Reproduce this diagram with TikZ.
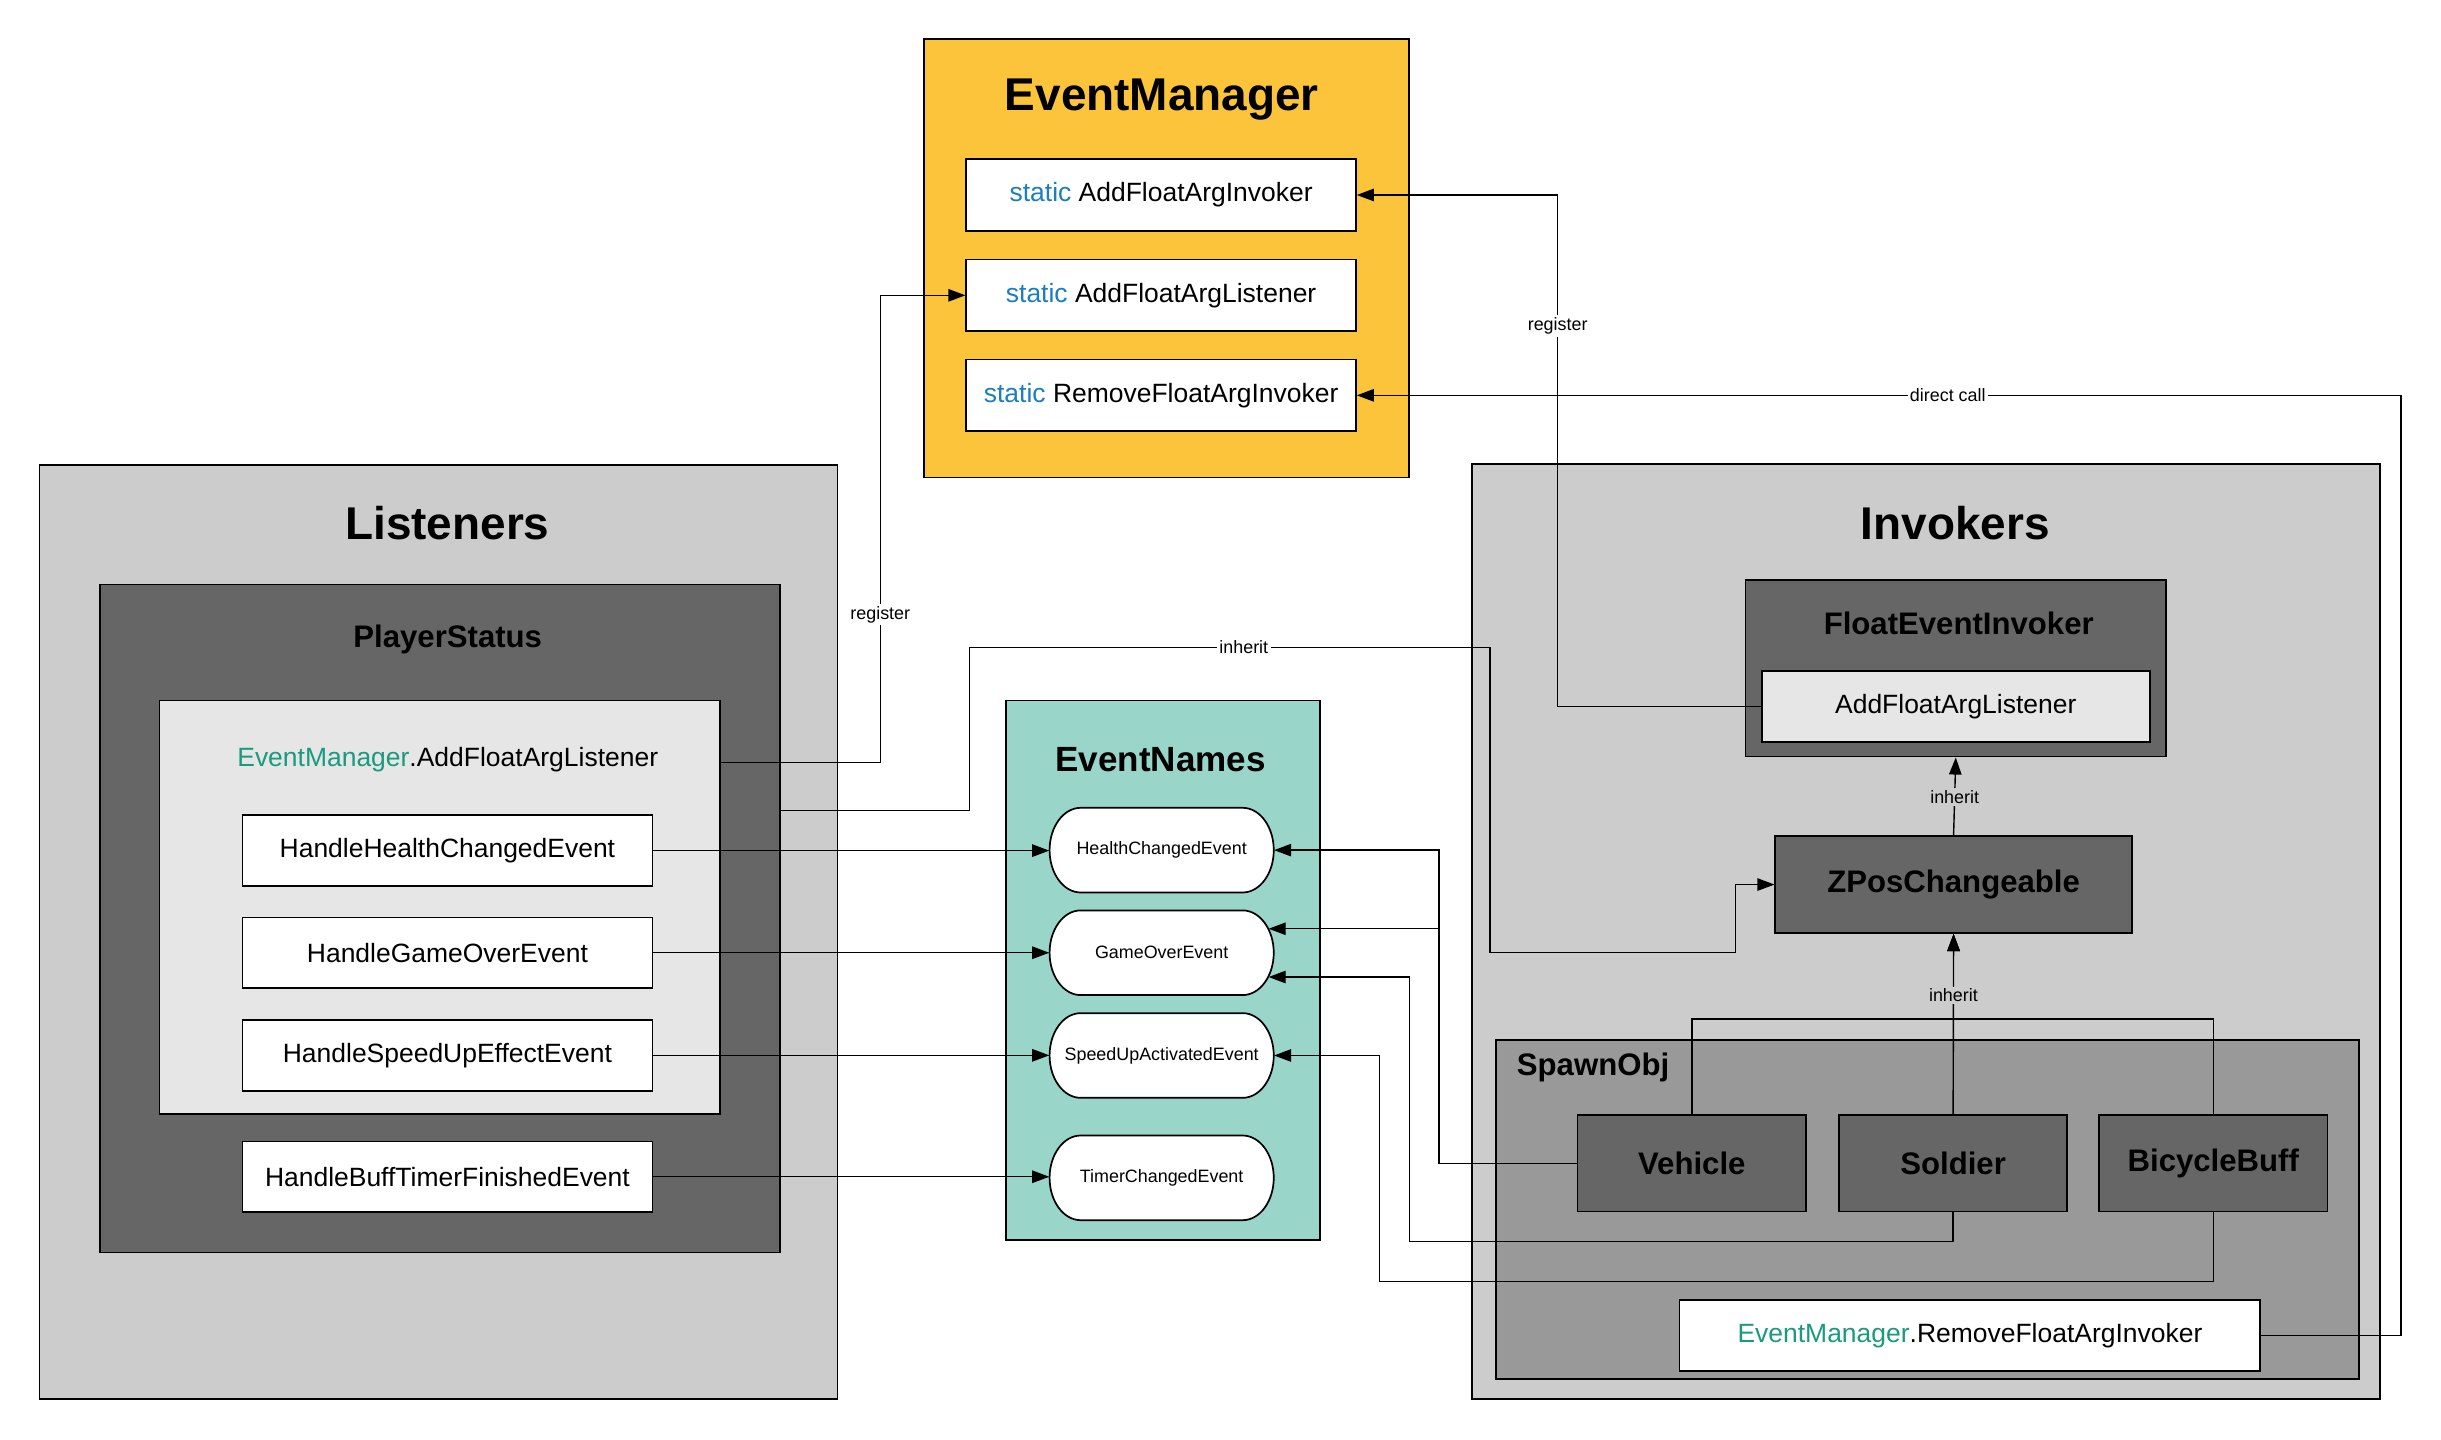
\documentclass[tikz,border=0pt]{standalone}
\usepackage{fontspec}
\setmainfont{Liberation Sans}
\usetikzlibrary{arrows,arrows.meta}

\definecolor{emyellow}{HTML}{FBC43B}
\definecolor{cellgray}{HTML}{CCCCCC}
\definecolor{psgray}{HTML}{666666}
\definecolor{callgray}{HTML}{E6E6E6}
\definecolor{spawngray}{HTML}{999999}
\definecolor{namesteal}{HTML}{9AD5CA}
\definecolor{mgrgreen}{HTML}{1A9A7E}
\definecolor{staticblue}{HTML}{1B7EC2}

\newcommand{\ftitle}{\fontsize{29.5}{34}\selectfont\bfseries}
\newcommand{\fnames}{\fontsize{22.5}{26}\selectfont\bfseries}
\newcommand{\fclass}{\fontsize{20}{24}\selectfont\bfseries}
\newcommand{\fbody}{\fontsize{17}{20}\selectfont}
\newcommand{\flabel}{\fontsize{11.5}{14}\selectfont}
\newcommand{\mgr}{\textcolor{mgrgreen}{EventManager}}
\newcommand{\stat}{\textcolor{staticblue}{static}}

\begin{document}
\begin{tikzpicture}[x=1pt,y=-1pt,
	box/.style={draw, line width=1.1pt, inner sep=0pt},
	method/.style={box, fill=white, font=\fbody, minimum width=263.4pt, minimum height=45.4pt},
	emmethod/.style={box, fill=white, font=\fbody, minimum width=250.3pt, minimum height=45.9pt},
	evt/.style={inner sep=0pt, font=\flabel, minimum width=144pt, minimum height=54.4pt},
	pill/.style={draw, fill=white, line width=1.1pt},
	cls/.style={box, fill=psgray, font=\fclass, minimum width=146.7pt, minimum height=62.1pt},
	conn/.style={line width=0.9pt, -{Triangle[length=11pt,width=8pt]}},
	lbl/.style={fill=white, inner sep=1.5pt, font=\flabel},
	lblgray/.style={lbl, fill=cellgray}]
	\useasboundingbox (0,0) rectangle (1568,925);

	% EventManager
	\node[box, fill=emyellow, minimum width=311.5pt, minimum height=281.7pt] (evm) at (749.25,165.85) {};
	\node[font=\ftitle, inner sep=0pt] (evmTitle) at (746.3,64) {EventManager};
	\node[emmethod] (addInv) at (745.85,125.25) {\stat{} AddFloatArgInvoker};
	\node[emmethod] (addLis) at (745.85,189.7) {\stat{} AddFloatArgListener};
	\node[emmethod] (remInv) at (745.85,253.95) {\stat{} RemoveFloatArgInvoker};

	% Listeners
	\node[box, fill=cellgray, minimum width=512.5pt, minimum height=599.7pt] (listeners) at (281.65,598.65) {};
	\node[font=\ftitle, inner sep=0pt] (listenersTitle) at (287.4,336) {Listeners};
	\node[box, fill=psgray, minimum width=436.7pt, minimum height=429.1pt] (playerStatus) at (282.65,589.95) {};
	\node[font=\fclass, inner sep=0pt] (playerTitle) at (287.6,410.5) {PlayerStatus};
	\node[box, fill=callgray, minimum width=360.1pt, minimum height=265.8pt] (addCall) at (282.45,582.9) {};
	\node[font=\fbody, inner sep=0pt] (addText) at (287.6,488) {\mgr.AddFloatArgListener};
	\node[method] (hhce) at (287.4,546.4) {HandleHealthChangedEvent};
	\node[method] (hgoe) at (287.4,612.0) {HandleGameOverEvent};
	\node[method] (hsuee) at (287.4,677.9) {HandleSpeedUpEffectEvent};
	\node[method] (hbtfe) at (287.4,755.9) {HandleBuffTimerFinishedEvent};

	% EventNames
	\node[box, fill=namesteal, minimum width=201.7pt, minimum height=346.7pt] (eventNames) at (747.05,623.25) {};
	\node[font=\fnames, inner sep=0pt] (namesTitle) at (745.5,487.8) {EventNames};
	\foreach \y in {546.1, 612.0, 678.0, 756.6}
		\draw[pill] (694.2,\y-27.2) -- (798.2,\y-27.2)
			arc[start angle=90, end angle=-90, x radius=20pt, y radius=27.2pt]
			-- (694.2,\y+27.2)
			arc[start angle=270, end angle=90, x radius=20pt, y radius=27.2pt] -- cycle;
	\node[evt] (health) at (746.2,546.1) {HealthChangedEvent};
	\node[evt] (gameOver) at (746.2,612.0) {GameOverEvent};
	\node[evt] (speedUp) at (746.2,678.0) {SpeedUpActivatedEvent};
	\node[evt] (timer) at (746.2,756.6) {TimerChangedEvent};

	% Invokers
	\node[box, fill=cellgray, minimum width=583.4pt, minimum height=600.6pt] (invokers) at (1237.1,598.5) {};
	\node[font=\ftitle, inner sep=0pt] (invokersTitle) at (1256,336) {Invokers};
	\node[box, fill=psgray, minimum width=270pt, minimum height=113.4pt] (fei) at (1256.3,429.3) {};
	\node[font=\fclass, inner sep=0pt] (feiTitle) at (1258.2,400.6) {FloatEventInvoker};
	\node[box, fill=callgray, font=\fbody, minimum width=249.4pt, minimum height=45.4pt] (afal) at (1256.3,453.7) {AddFloatArgListener};
	\node[cls, minimum width=229pt, minimum height=62.4pt] (zpos) at (1254.9,568.2) {ZPosChangeable};
	\node[box, fill=spawngray, minimum width=554.6pt, minimum height=218pt] (spawnObj) at (1238.1,777) {};
	\node[font=\fclass, inner sep=0pt, anchor=west] (spawnTitle) at (974.2,685.6) {SpawnObj};
	\node[cls] (vehicle) at (1086.75,747.25) {Vehicle};
	\node[cls] (soldier) at (1254.6,747.25) {Soldier};
	\node[cls] (bicycle) at (1421.7,747.25) {BicycleBuff};
	\node[box, fill=white, font=\fbody, minimum width=373pt, minimum height=45.4pt] (remCall) at (1265.4,857.8) {\mgr.RemoveFloatArgInvoker};

	% listeners to event names
	\draw[conn] (hhce.east) -- (hhce.east -| health.west);
	\draw[conn] (hgoe.east) -- (hgoe.east -| gameOver.west);
	\draw[conn] (hsuee.east) -- (hsuee.east -| speedUp.west);
	\draw[conn] (hbtfe.east) -- (hbtfe.east -| timer.west);

	% register / direct call
	\draw[conn] ([yshift=93.2pt]addCall.east) -- ++(102.4,0) |- node[lbl, pos=0.158] {register} (addLis.west);
	\draw[conn] (afal.west) -- ++(-130.5,0) |- node[lbl, pos=0.372] {register} (addInv.east);
	\draw[conn] (remCall.east) -- ++(89.8,0) |- node[lbl, pos=0.717] {direct call} (remInv.east);

	% invokers to event names
	\draw[conn] (vehicle.west) -- ++(-88.5,0) |- (health.east);
	\draw[conn] (vehicle.west) -- ++(-88.5,0) |- ([yshift=15.4pt,xshift=-3.5pt]gameOver.east);
	\draw[conn] (soldier.south) -- ++(0,18.7) -- ++(-349.1,0) |- ([yshift=-15.6pt,xshift=-3.5pt]gameOver.east);
	\draw[conn] (bicycle.south) -- ++(0,44.5) -- ++(-535.5,0) |- (speedUp.east);

	% inherit
	\draw[conn] ([yshift=69.45pt]playerStatus.east) -- ++(121.3,0) -- ++(0,-104.7)
		-- node[lbl, pos=0.527] {inherit} ++(334.2,0) -- ++(0,196) -- ++(157.6,0) |- (zpos.west);
	\draw[conn] (zpos.north) -- node[lblgray, pos=0.49] {inherit} (fei.south);
	\draw[conn] (vehicle.north) -- ++(0,-61) -| (zpos.south);
	\draw[conn] (bicycle.north) -- ++(0,-61) -| (zpos.south);
	\draw[conn] (soldier.north) -- node[lblgray, pos=0.658] {inherit} (zpos.south);
\end{tikzpicture}
\end{document}
